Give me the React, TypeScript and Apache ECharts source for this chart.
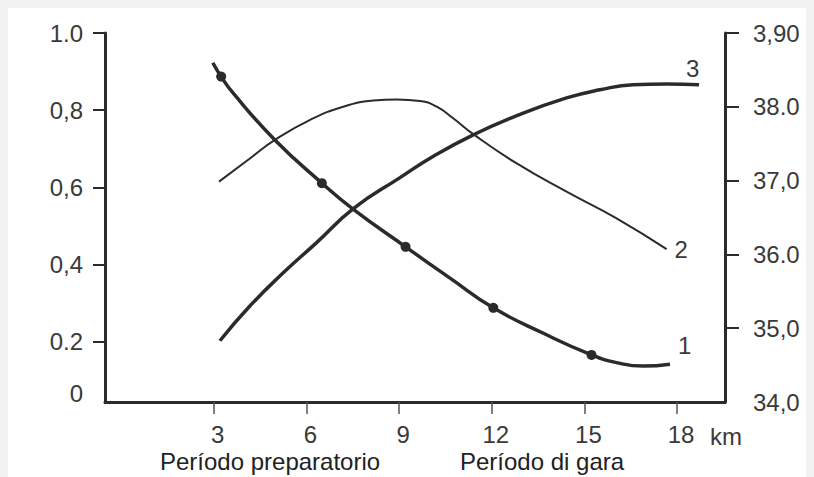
import React, { useEffect, useRef } from "react";
import * as echarts from "echarts";

// ---- data ----
const xTickValues = [3, 6, 9, 12, 15, 18];

const leftTickValues = [0.044, 0.2, 0.4, 0.6, 0.8, 1.0];
const leftTickLabels = ["0", "0.2", "0,4", "0,6", "0,8", "1.0"];

const rightTickValues = [34, 35, 36, 37, 38, 39];
const rightTickLabels = ["34,0", "35,0", "36.0", "37,0", "38.0", "3,90"];

// curve 1 (thick, with dots) - left axis
const curve1Km = [2.97, 3.24, 3.63, 4.98, 6.5, 7.52, 9.21, 10.65, 12.05, 13.67, 15.23, 16.04, 16.9, 17.77];
const curve1Val = [0.923, 0.887, 0.844, 0.723, 0.611, 0.543, 0.446, 0.365, 0.288, 0.222, 0.166, 0.146, 0.137, 0.142];
const curve1Dots = [1, 4, 6, 8, 10];

// curve 2 (thin) - left axis
const curve2Km = [3.17, 4.17, 4.98, 6.12, 7.19, 8.17, 8.92, 9.68, 10.22, 10.75, 11.4, 12.81, 14.42, 16.04, 17.66];
const curve2Val = [0.615, 0.675, 0.723, 0.775, 0.809, 0.825, 0.828, 0.824, 0.809, 0.779, 0.738, 0.662, 0.589, 0.52, 0.44];

// curve 3 (thick) - right axis
const curve3Km = [3.2, 4.17, 5.25, 6.33, 7.52, 9.03, 10.11, 11.4, 12.81, 14.42, 15.5, 16.58, 17.66, 18.71];
const curve3Val = [34.83, 35.3, 35.75, 36.16, 36.62, 37.04, 37.33, 37.62, 37.88, 38.12, 38.23, 38.3, 38.31, 38.3];

const curveNames = ["1", "2", "3"];
const periodLabels = ["Período preparatorio", "Período di gara"];
const unitLabel = "km";

const FONT = "'Liberation Sans', Arial, Helvetica, sans-serif";
const INK = "#2b2b2b";
const TEXT = "#3a3a3a";

export default function App() {
  const ref = useRef<HTMLDivElement>(null);

  useEffect(() => {
    document.body.style.background = "#f2f2f2";
    document.documentElement.style.overflow = "hidden";
    if (!ref.current) return;
    const chart = echarts.init(ref.current, null, { renderer: "svg" });

    const fmtLeft = (v: number) => {
      let best = 0;
      leftTickValues.forEach((t, i) => {
        if (Math.abs(t - v) < Math.abs(leftTickValues[best] - v)) best = i;
      });
      return best === 0 ? "{z|" + leftTickLabels[0] + "}" : leftTickLabels[best];
    };
    const fmtRight = (v: number) => {
      let best = 0;
      rightTickValues.forEach((t, i) => {
        if (Math.abs(t - v) < Math.abs(rightTickValues[best] - v)) best = i;
      });
      return rightTickLabels[best];
    };

    const labelStyle = { fontSize: 24, color: TEXT, fontFamily: FONT };

    const d1 = curve1Km.map((x, i) =>
      curve1Dots.includes(i)
        ? { value: [x, curve1Val[i]], symbol: "circle", symbolSize: 10, itemStyle: { color: INK } }
        : { value: [x, curve1Val[i]], symbol: "none" }
    );
    const d2 = curve2Km.map((x, i) => [x, curve2Val[i]]);
    const d3 = curve3Km.map((x, i) => [x, curve3Val[i]]);

    const endLabel = (txt: string, offset: number[]) => ({
      show: true,
      formatter: txt,
      distance: 0,
      offset,
      fontSize: 24,
      color: TEXT,
      fontFamily: FONT,
    });

    chart.setOption({
      animation: false,
      backgroundColor: "#ffffff",
      grid: { left: 97, right: 89, top: 25, bottom: 75, containLabel: false },
      xAxis: {
        type: "value",
        min: -0.52,
        max: 19.55,
        axisLine: { show: true, onZero: false, lineStyle: { color: INK, width: 3 } },
        axisTick: { show: true, customValues: xTickValues, length: 12, lineStyle: { color: "#555", width: 1.5 } },
        axisLabel: { ...labelStyle, customValues: xTickValues, margin: 20, padding: [0, 0, 0, 8] },
        splitLine: { show: false },
      },
      yAxis: [
        {
          type: "value",
          position: "left",
          min: 0.044,
          max: 1.0,
          axisLine: { show: true, onZero: false, lineStyle: { color: INK, width: 3 } },
          axisTick: { show: true, customValues: leftTickValues.slice(1), length: 12, lineStyle: { color: INK, width: 2 } },
          axisLabel: {
            ...labelStyle,
            customValues: leftTickValues,
            margin: 22,
            formatter: fmtLeft,
            rich: { z: { ...labelStyle, padding: [0, 0, 18, 0] } },
          },
          splitLine: { show: false },
        },
        {
          type: "value",
          position: "right",
          min: 34,
          max: 39,
          axisLine: { show: true, onZero: false, lineStyle: { color: INK, width: 3 } },
          axisTick: { show: true, customValues: rightTickValues.slice(1), length: 14, lineStyle: { color: INK, width: 2 } },
          axisLabel: { ...labelStyle, customValues: rightTickValues, margin: 28, formatter: fmtRight },
          splitLine: { show: false },
        },
      ],
      series: [
        {
          name: curveNames[0],
          type: "line",
          yAxisIndex: 0,
          data: d1,
          smooth: 0.5,
          symbol: "none",
          showSymbol: true,
          lineStyle: { color: INK, width: 3.5 },
          itemStyle: { color: INK },
          endLabel: endLabel(curveNames[0], [8, -19]),
          silent: true,
        },
        {
          name: curveNames[1],
          type: "line",
          yAxisIndex: 0,
          data: d2,
          smooth: 0.5,
          symbol: "none",
          lineStyle: { color: INK, width: 2 },
          endLabel: endLabel(curveNames[1], [8, 0]),
          silent: true,
        },
        {
          name: curveNames[2],
          type: "line",
          yAxisIndex: 1,
          data: d3,
          smooth: 0.5,
          symbol: "none",
          lineStyle: { color: INK, width: 3.5 },
          endLabel: endLabel(curveNames[2], [-13, -16]),
          silent: true,
        },
      ],
      graphic: [
        {
          type: "text",
          left: 702,
          top: 416,
          style: { text: unitLabel, fontSize: 24, fill: TEXT, fontFamily: FONT },
        },
        {
          type: "text",
          left: 152,
          top: 441,
          style: { text: periodLabels[0], fontSize: 24, fill: "#222", fontFamily: FONT },
        },
        {
          type: "text",
          left: 452,
          top: 441,
          style: { text: periodLabels[1], fontSize: 24, fill: "#222", fontFamily: FONT },
        },
      ],
    });

    return () => chart.dispose();
  }, []);

  return <div ref={ref} style={{ width: 806, height: 469, background: "#ffffff" }} />;
}
